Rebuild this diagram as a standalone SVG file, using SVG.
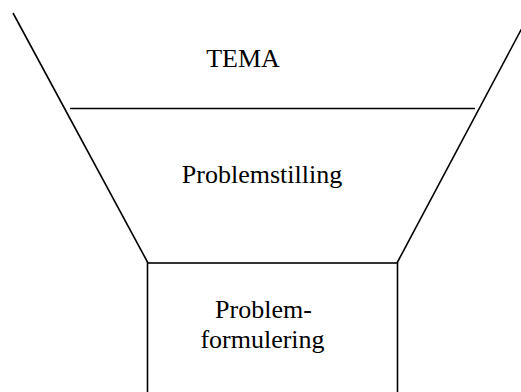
<svg xmlns="http://www.w3.org/2000/svg" width="521" height="392" viewBox="0 0 521 392">
  <style>
    .ln { stroke: #000; stroke-width: 1.6; fill: none; }
    .lbl { font-family: "Liberation Serif", "Times New Roman", serif; font-size: 26px; fill: #000; text-anchor: middle; }
  </style>
  <rect width="521" height="392" fill="#fff"/>
  <g id="connectors">
    <line class="ln" x1="13" y1="13" x2="148" y2="263"/>
    <line class="ln" x1="530" y1="13" x2="397" y2="263"/>
  </g>
  <g id="tema">
    <text class="lbl" x="243" y="67">TEMA</text>
  </g>
  <g id="problemstilling">
    <line class="ln" x1="70" y1="108.5" x2="475" y2="108.5"/>
    <text class="lbl" x="262" y="183">Problemstilling</text>
  </g>
  <g id="problemformulering">
    <rect class="ln" x="147.5" y="263" width="250" height="140"/>
    <text class="lbl" x="263.5" y="318">Problem-</text>
    <text class="lbl" x="262.5" y="348">formulering</text>
  </g>
</svg>
